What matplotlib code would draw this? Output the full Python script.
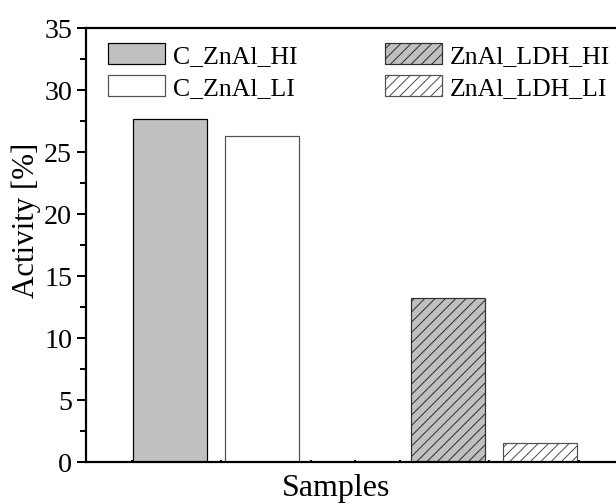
import numpy as np
import matplotlib
matplotlib.use("Agg")
import matplotlib.pyplot as plt
from matplotlib.ticker import MultipleLocator, FixedLocator, NullFormatter

# activity of the four catalyst samples
samples = ["C_ZnAl_HI", "C_ZnAl_LI", "ZnAl_LDH_HI", "ZnAl_LDH_LI"]
activity = [27.7, 26.3, 13.2, 1.5]
positions = [1, 2, 4, 5]
faces = ["#c0c0c0", "white", "#c0c0c0", "white"]
edges = ["black", "#505050", "#303030", "#505050"]
hatches = ["", "", "////", "////"]

DPI = 124
def pt(px):
    return px * 72.0 / DPI

plt.rcParams["font.family"] = ["Liberation Serif", "DejaVu Serif"]
plt.rcParams["hatch.linewidth"] = pt(1.0)

fig = plt.figure(figsize=(616 / DPI, 505 / DPI), dpi=DPI)
ax = fig.add_axes([86 / 616, 42 / 505, 530 / 616, 434 / 505])

for x, v, fc, ec, h, name in zip(positions, activity, faces, edges, hatches, samples):
    ax.bar(x, v, width=0.8, color=fc, edgecolor=ec, hatch=h,
           linewidth=pt(1.2), label=name, zorder=2)

ax.set_xlim(0.093, 5.82)
ax.set_ylim(0, 35)

ax.spines["right"].set_visible(False)
for s in ["left", "bottom", "top"]:
    ax.spines[s].set_linewidth(pt(2.2))
    ax.spines[s].set_zorder(3)

ax.yaxis.set_major_locator(MultipleLocator(5))
ax.yaxis.set_minor_locator(MultipleLocator(2.5))
ax.tick_params(axis="y", which="major", direction="out", length=pt(9),
               width=pt(2), pad=pt(5), labelsize=pt(28))
ax.tick_params(axis="y", which="minor", direction="out", length=pt(6), width=pt(2))
ax.tick_params(axis="y", right=False)

ax.xaxis.set_major_locator(FixedLocator([]))
ax.xaxis.set_minor_locator(FixedLocator(np.arange(0.589, 5.8, 0.483)))
ax.xaxis.set_minor_formatter(NullFormatter())
ax.tick_params(axis="x", which="minor", direction="in", length=pt(2), width=pt(2))
ax.tick_params(axis="x", top=False)

ax.set_ylabel("Activity [%]", fontsize=pt(31))
ax.yaxis.set_label_coords(-0.084, 0.558)
ax.set_xlabel("Samples", fontsize=pt(32))
ax.xaxis.set_label_coords(0.472, -0.025)

ax.legend(loc="upper left", bbox_to_anchor=(108 / 616, 1 - 44 / 505),
          bbox_transform=fig.transFigure, ncol=2, frameon=False,
          fontsize=pt(25.7), handlelength=2.22, handleheight=0.88,
          handletextpad=0.3, columnspacing=3.4, labelspacing=0.3,
          borderpad=0, borderaxespad=0)

fig.savefig("out.png", dpi=DPI)
